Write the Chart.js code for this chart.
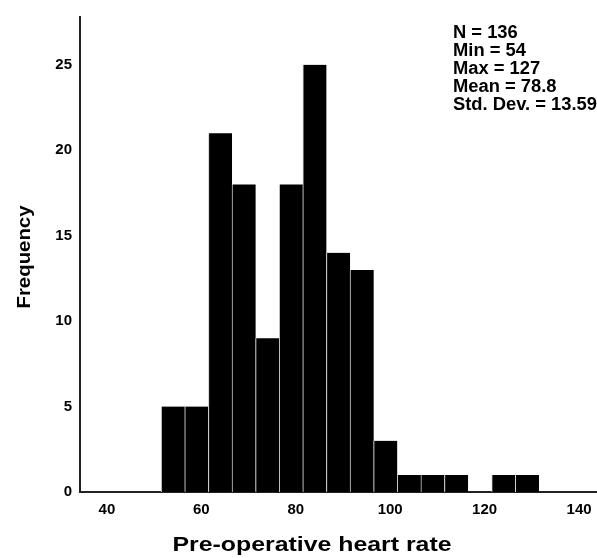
<!DOCTYPE html>
<html>
<head>
<meta charset="utf-8">
<script src="https://cdn.jsdelivr.net/npm/chart.js@4/dist/chart.umd.min.js"></script>
<style>
  html, body { margin: 0; padding: 0; background: #fff; }
  #wrap { width: 597px; height: 558px; position: relative; }
</style>
</head>
<body>
<div id="wrap"><canvas id="hist"></canvas></div>
<script>
// Histogram bins (width 5) and counts
const binCenters = [54, 59, 64, 69, 74, 79, 84, 89, 94, 99, 104, 109, 114, 119, 124, 129];
const frequencies = [5, 5, 21, 18, 9, 18, 25, 14, 13, 3, 1, 1, 1, 0, 1, 1];
const xTicks = [40, 60, 80, 100, 120, 140];
const yTicks = [0, 5, 10, 15, 20, 25];
const statLines = ['N = 136', 'Min = 54', 'Max = 127', 'Mean = 78.8', 'Std. Dev. = 13.59'];

const sans = '"Liberation Sans", Arial, sans-serif';

// Stats box + axis titles
const annotations = {
    id: 'annotations',
    afterDraw(chart) {
        const ctx = chart.ctx;
        ctx.save();
        ctx.fillStyle = '#000';
        ctx.textBaseline = 'middle';
        ctx.textAlign = 'left';

        ctx.font = 'bold 18px ' + sans;
        const widest = Math.max(...statLines.map(s => ctx.measureText(s).width));
        const sx = 144 / widest;
        statLines.forEach((s, i) => {
            ctx.save();
            ctx.translate(453, 33 + i * 18);
            ctx.scale(sx, 1);
            ctx.fillText(s, 0, 0);
            ctx.restore();
        });

        ctx.font = 'bold 21px ' + sans;
        ctx.textAlign = 'center';
        const xt = 'Pre-operative heart rate';
        const xs = 279 / ctx.measureText(xt).width;
        ctx.save();
        ctx.translate(312, 545);
        ctx.scale(xs, 1);
        ctx.fillText(xt, 0, 0);
        ctx.restore();

        ctx.font = 'bold 19px ' + sans;
        const yt = 'Frequency';
        const ys = 103 / ctx.measureText(yt).width;
        ctx.save();
        ctx.translate(25, 257);
        ctx.rotate(-Math.PI / 2);
        ctx.scale(ys, 1);
        ctx.fillText(yt, 0, 0);
        ctx.restore();
        ctx.restore();
    }
};

new Chart(document.getElementById('hist'), {
    type: 'bar',
    data: {
        datasets: [{
            data: binCenters.map((c, i) => ({ x: c, y: frequencies[i] })),
            backgroundColor: '#000',
            borderColor: '#d0d0d0',
            borderWidth: { left: 1, right: 0, top: 0, bottom: 0 },
            borderSkipped: false,
            barPercentage: 1,
            categoryPercentage: 1
        }]
    },
    options: {
        responsive: true,
        maintainAspectRatio: false,
        animation: false,
        layout: { padding: { top: 11, right: 0, left: 0, bottom: 0 } },
        plugins: { legend: { display: false }, tooltip: { enabled: false } },
        scales: {
            x: {
                type: 'linear',
                offset: false,
                min: 34.3,
                max: 143.8,
                afterFit: s => { s.height = 66; s.paddingLeft = 0; s.paddingRight = 0; },
                afterBuildTicks: s => { s.ticks = xTicks.map(v => ({ value: v })); },
                ticks: { color: '#000', font: { family: sans, size: 15, weight: 'bold' }, padding: 9, maxRotation: 0 },
                grid: { display: false, drawTicks: false },
                border: { display: true, color: '#222', width: 2 }
            },
            y: {
                min: 0,
                max: 27.8,
                afterFit: s => { s.width = 80; },
                afterBuildTicks: s => { s.ticks = yTicks.map(v => ({ value: v })); },
                ticks: { color: '#000', font: { family: sans, size: 15, weight: 'bold' }, padding: 8 },
                grid: { display: false, drawTicks: false },
                border: { display: true, color: '#222', width: 2 }
            }
        }
    },
    plugins: [annotations]
});
</script>
</body>
</html>
